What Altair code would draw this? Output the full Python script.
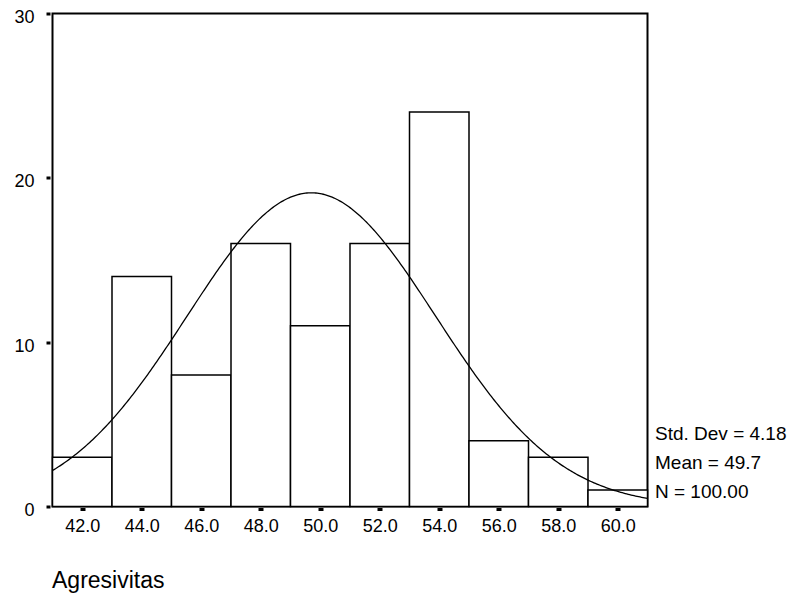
import altair as alt
import pandas as pd

# Histogram bins (centres) and counts
bin_centers = [42.0, 44.0, 46.0, 48.0, 50.0, 52.0, 54.0, 56.0, 58.0, 60.0]
counts = [3, 14, 8, 16, 11, 16, 24, 4, 3, 1]
bin_width = 2.0

# Summary statistics shown at the right
std_dev = 4.18
mean = 49.7
n_total = 100

x_ticks = [42, 44, 46, 48, 50, 52, 54, 56, 58, 60]
y_ticks = [0, 10, 20, 30]
x_domain = [41, 61]
y_domain = [0, 30]

stat_labels = [f"Std. Dev = {std_dev:.2f}", f"Mean = {mean}", f"N = {n_total:.2f}"]

FONT = "Liberation Sans"

bars_df = pd.DataFrame({"center": bin_centers, "count": counts})

xscale = alt.Scale(domain=x_domain, nice=False, zero=False)
yscale = alt.Scale(domain=y_domain, nice=False)

x_axis = alt.Axis(values=x_ticks, format=".1f", grid=False, domain=False,
                  tickSize=3, tickWidth=5, tickColor="black", offset=1,
                  labelPadding=7, labelFontSize=18, labelFont=FONT,
                  labelColor="black", labelFlush=False, labelOverlap=False,
                  titleAnchor="start", titleAlign="left", titleX=-1, titleY=80,
                  titleBaseline="alphabetic", titleFontSize=23,
                  titleFontWeight="normal", titleFont=FONT, titleColor="black")
y_axis = alt.Axis(values=y_ticks, grid=False, domain=False, tickSize=4,
                  tickWidth=3, tickColor="black", offset=2.5, labelPadding=12,
                  labelOffset=4, labelFontSize=18, labelFont=FONT, labelColor="black",
                  labelFlush=False)

bars = alt.Chart(bars_df).mark_bar(
    fill="white", stroke="black", strokeWidth=1.5
).transform_calculate(
    x0=f"datum.center - {bin_width}/2", x1=f"datum.center + {bin_width}/2", zero="0"
).encode(
    x=alt.X("x0:Q", scale=xscale, title="Agresivitas", axis=x_axis),
    x2="x1:Q",
    y=alt.Y("count:Q", scale=yscale, title=None, axis=y_axis),
    y2="zero:Q",
)

curve = alt.Chart(alt.sequence(x_domain[0], x_domain[1] + 0.01, 0.05, as_="xv")).transform_calculate(
    dens=f"{n_total} * {bin_width} * densityNormal(datum.xv, {mean}, {std_dev})"
).mark_line(color="black", strokeWidth=1.3).encode(
    x=alt.X("xv:Q", scale=xscale, title="Agresivitas"),
    y=alt.Y("dens:Q", scale=yscale, title=None),
)

stats_layers = []
for i, lab in enumerate(stat_labels):
    stats_layers.append(
        alt.Chart(pd.DataFrame({"t": [lab]})).mark_text(
            align="left", baseline="alphabetic", fontSize=19, font=FONT, color="black"
        ).encode(x=alt.value(602.5), y=alt.value(426.5 + 29 * i), text="t:N")
    )

chart = alt.layer(bars, curve, *stats_layers).properties(
    width=595, height=493,
    autosize=alt.AutoSizeParams(type="none"),
    padding={"left": 44.5, "top": 5.5, "right": 150, "bottom": 86},
).configure_view(stroke="black", strokeWidth=2)

chart.save("out.html", embed_options={"renderer": "svg", "actions": False})
